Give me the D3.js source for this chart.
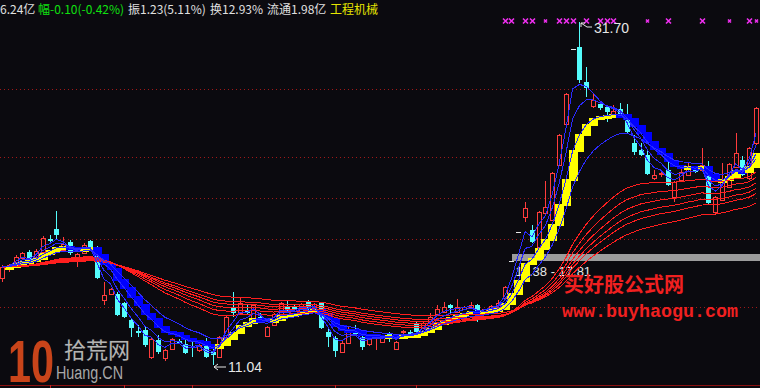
<!DOCTYPE html>
<html>
<head>
<meta charset="utf-8">
<script src="https://cdn.jsdelivr.net/npm/d3@7"></script>
<style>
  html, body { margin: 0; padding: 0; background: #0b0a0f; }
  svg { display: block; }
</style>
</head>
<body>
<svg id="chart" width="760" height="388"></svg>
<script>
// daily bars, oldest first
var opens  = [16.28,16.82,17.24,17.49,17.85,17.55,17.85,18.63,19.23,17.97,18.45,17.55,17.79,18.51,18.09,14.96,15.32,15.32,14.78,13.75,
              13.09,13.15,11.52,12.55,11.46,12.00,12.49,12.31,12.13,11.94,12.37,11.82,11.52,12.73,14.47,14.17,14.30,13.87,13.93,12.79,
              13.45,13.93,14.60,14.53,14.23,14.90,14.30,14.78,13.03,12.67,11.82,12.37,13.03,12.73,12.31,12.70,12.43,12.88,12.00,13.00,
              13.03,13.51,13.27,13.57,14.11,14.23,14.66,14.23,14.41,14.53,14.66,14.29,14.50,14.53,15.08,17.31,19.04,19.95,19.17,18.15,
              20.20,19.77,23.09,25.56,30.10,30.19,28.09,26.64,26.76,26.58,26.10,26.46,25.92,24.41,23.99,23.69,22.30,22.58,22.78,21.16,
              22.18,22.48,22.90,22.78,22.60,20.26,20.98,21.76,22.97,23.39,22.30,24.41];
var highs  = [17.06,17.12,17.67,17.85,17.97,18.00,18.81,18.87,20.32,18.75,18.57,17.79,18.39,18.57,18.21,16.04,15.68,15.44,14.84,13.81,
              13.45,13.33,12.67,12.85,11.99,12.67,12.61,12.55,12.55,12.40,12.67,12.07,12.79,14.05,15.44,15.08,14.66,14.72,14.17,13.39,
              14.17,14.84,14.96,14.72,14.78,14.96,14.78,14.84,13.33,12.79,12.49,13.33,13.45,12.97,12.67,12.85,12.67,13.03,12.50,13.15,
              13.15,13.70,13.63,14.17,14.66,14.84,14.72,15.02,14.60,14.84,14.72,14.41,14.66,14.96,15.80,17.31,19.04,20.86,19.47,20.30,
              22.12,22.66,24.95,27.42,30.10,31.70,28.99,27.42,26.88,26.64,26.70,26.82,26.76,24.89,24.41,23.99,22.78,22.78,23.27,22.12,
              22.90,23.27,23.00,24.11,23.33,21.22,23.21,23.20,25.00,23.60,24.20,26.60];
var lows   = [16.04,16.64,17.24,17.43,17.30,17.49,17.79,18.45,18.57,17.85,17.67,16.94,17.73,18.03,16.22,14.66,15.26,14.00,13.87,12.73,
              12.73,12.10,11.40,11.70,11.28,11.95,12.30,11.70,11.52,11.80,11.46,11.04,11.46,12.67,13.93,14.10,14.10,13.80,13.70,12.70,
              13.40,13.87,14.17,14.30,14.17,14.35,14.23,13.20,12.13,11.52,11.76,12.30,12.85,11.94,12.20,11.94,12.37,12.43,11.94,12.85,
              12.85,12.97,13.20,13.51,14.05,14.17,14.17,14.17,14.35,14.47,13.63,14.23,14.47,14.47,15.02,17.31,19.04,19.65,18.40,18.09,
              20.10,19.70,23.00,25.50,30.10,28.03,27.18,26.50,26.40,25.68,26.00,25.90,24.95,23.69,23.60,22.50,22.18,22.36,21.82,20.86,
              22.10,22.40,22.60,22.70,20.75,20.08,20.90,21.70,22.90,22.40,22.20,24.30];
var closes = [16.94,17.06,17.55,17.79,17.37,17.91,18.69,18.51,18.87,18.33,17.79,17.73,18.27,18.09,16.28,15.26,15.62,14.05,13.93,13.27,
              12.97,12.25,12.61,11.82,11.94,12.61,12.37,11.76,12.07,12.25,11.52,11.64,12.73,13.93,14.17,14.78,14.17,14.66,13.75,13.33,
              14.11,14.78,14.23,14.35,14.72,14.41,14.72,13.27,12.73,11.88,12.37,13.03,12.91,12.13,12.67,12.73,12.67,12.82,12.43,13.09,
              12.91,13.03,13.57,13.93,14.41,14.53,14.47,14.53,14.53,14.66,14.05,14.41,14.60,14.78,15.74,17.31,19.04,20.50,18.45,20.26,
              20.56,22.60,24.89,27.36,30.10,28.21,27.72,27.00,26.52,26.28,26.34,25.98,25.07,23.87,23.69,22.54,22.48,22.62,21.88,22.06,
              22.66,23.03,22.66,23.09,20.80,21.16,22.18,23.15,23.81,22.48,24.11,26.52];

var gridPrices   = [27.66, 23.57, 21.10, 18.63, 14.53];
var shortPeriods = [3, 5, 8, 13];           // blue group
var longPeriods  = [30, 35, 40, 45, 50, 60]; // red group
var stepPeriod   = 8;                        // staircase blocks
var crossBars    = [74, 75, 77, 78, 80, 82, 83, 84, 86, 88, 89, 90, 95, 98, 103, 107, 110, 111];
var crossSmall   = [80, 95, 107, 111];
var monthBars    = [7, 18, 28, 49, 61];
var highBar = 85, highValue = 31.70;
var lowBar = 31, lowValue = 11.04;
var bandStart = 75, bandPrice = 17.81, bandText = "11.38 - 17.81";
var headerTexts  = ["6.24亿", "幅-0.10(-0.42%)", "振1.23(5.11%)", "换12.93%", "流通1.98亿", "工程机械"];

var W = 760, H = 388;
var svg = d3.select("#chart");
svg.append("rect").attr("width", W).attr("height", H).attr("fill", "#0b0a0f");

var x = d3.scaleLinear().domain([0, closes.length - 1]).range([2, 756]);
var y = d3.scaleLinear().domain([lowValue, highValue]).range([365, 22]);

function ema(vals, n) {
  var k = 2 / (n + 1), prev = vals[0];
  return vals.map(function(v, i) { prev = i ? prev + k * (v - prev) : v; return prev; });
}

// dotted grid
svg.append("g").selectAll("line").data(gridPrices).join("line")
  .attr("x1", 0).attr("x2", W)
  .attr("y1", d => Math.round(y(d)) + 0.5).attr("y2", d => Math.round(y(d)) + 0.5)
  .attr("stroke", "#a01818").attr("stroke-dasharray", "1,3");

// bottom border + month ticks
svg.append("line").attr("x1", 0).attr("x2", W).attr("y1", 385.5).attr("y2", 385.5).attr("stroke", "#8a1010");
svg.append("g").selectAll("line").data(monthBars).join("line")
  .attr("x1", d => Math.round(x(d)) + 0.5).attr("x2", d => Math.round(x(d)) + 0.5)
  .attr("y1", 385).attr("y2", 388).attr("stroke", "#c02020");

// grey level band and its label
svg.append("rect")
  .attr("x", Math.round(x(bandStart)) + 1).attr("width", W - Math.round(x(bandStart)))
  .attr("y", Math.round(y(bandPrice)) + 1).attr("height", 7)
  .attr("fill", "#9c9c9c");
svg.append("text").attr("x", x(bandStart) + 4).attr("y", y(bandPrice) + 23)
  .attr("fill", "#e6e6e6").attr("font-family", "Liberation Sans, Arial, sans-serif")
  .attr("font-size", 13).text(bandText);

// candles
var cg = svg.append("g").attr("shape-rendering", "crispEdges");
closes.forEach(function(c, i) {
  var o = opens[i], h = highs[i], l = lows[i];
  var cx = Math.round(x(i));
  var top = Math.round(y(Math.max(o, c))), bot = Math.round(y(Math.min(o, c)));
  if (c > o) {
    var red = "#ff3c3c";
    cg.append("line").attr("x1", cx + 0.5).attr("x2", cx + 0.5).attr("y1", y(h)).attr("y2", top).attr("stroke", red);
    cg.append("line").attr("x1", cx + 0.5).attr("x2", cx + 0.5).attr("y1", bot).attr("y2", y(l)).attr("stroke", red);
    cg.append("rect").attr("x", cx - 1.5).attr("y", top + 0.5).attr("width", 4).attr("height", Math.max(1, bot - top))
      .attr("fill", "none").attr("stroke", red);
  } else if (c < o) {
    var cy = "#54fcfc";
    cg.append("line").attr("x1", cx + 0.5).attr("x2", cx + 0.5).attr("y1", y(h)).attr("y2", y(l)).attr("stroke", cy);
    cg.append("rect").attr("x", cx - 2).attr("y", top).attr("width", 5).attr("height", Math.max(1, bot - top)).attr("fill", cy);
  } else {
    if (h > l) cg.append("line").attr("x1", cx + 0.5).attr("x2", cx + 0.5).attr("y1", y(h)).attr("y2", y(l)).attr("stroke", "#e6e6e6");
    cg.append("line").attr("x1", cx - 2).attr("x2", cx + 3).attr("y1", top + 0.5).attr("y2", top + 0.5).attr("stroke", "#e6e6e6");
  }
});

// staircase blocks from the step average
var step = ema(closes, stepPeriod);
var bg = svg.append("g").attr("shape-rendering", "crispEdges");
step.forEach(function(v, i) {
  if (i === 0) return;
  var p = step[i - 1];
  var t = Math.round(y(Math.max(v, p))), b = Math.round(y(Math.min(v, p)));
  bg.append("rect").attr("x", Math.round(x(i)) - 4).attr("width", 9)
    .attr("y", t - 1).attr("height", Math.max(4, b - t + 2))
    .attr("fill", v >= p ? "#ffff00" : "#0000ff");
});

var line = d3.line().x((d, i) => x(i)).y(d => y(d));

// long averages in red
svg.append("g").selectAll("path").data(longPeriods.map(n => ema(closes, n))).join("path")
  .attr("d", line).attr("fill", "none").attr("stroke", "#ff1e1e").attr("stroke-width", 1)
  .attr("shape-rendering", "crispEdges");

// short averages in blue
svg.append("g").selectAll("path").data(shortPeriods.map(n => ema(closes, n))).join("path")
  .attr("d", line).attr("fill", "none").attr("stroke", "#2a2aff").attr("stroke-width", 1)
  .attr("shape-rendering", "crispEdges");

// magenta crosses along the top
var mg = svg.append("g").attr("stroke", "#f030f0").attr("stroke-width", 1.6);
crossBars.forEach(function(b) {
  var r = crossSmall.indexOf(b) >= 0 ? 1.5 : 2.5, cx = Math.round(x(b)) + 0.5, cy = 21;
  mg.append("path").attr("d", "M" + (cx - r) + "," + (cy - r) + "L" + (cx + r) + "," + (cy + r) +
    "M" + (cx - r) + "," + (cy + r) + "L" + (cx + r) + "," + (cy - r));
});

// high / low annotations
var hx = Math.round(x(highBar)) + 1, hy = y(highValue);
svg.append("path").attr("d", "M" + (hx + 1) + "," + (hy + 1) + "L" + (hx + 1) + "," + (hy + 5) +
    "M" + (hx + 1) + "," + (hy + 1) + "L" + (hx + 5) + "," + (hy + 1) +
    "M" + (hx + 1) + "," + (hy + 1) + "L" + (hx + 7) + "," + (hy + 5) + "L" + (hx + 12) + "," + (hy + 5))
  .attr("stroke", "#e6e6e6").attr("fill", "none");
svg.append("text").attr("x", hx + 14).attr("y", hy + 11)
  .attr("fill", "#e6e6e6").attr("font-family", "Liberation Sans, Arial, sans-serif").attr("font-size", 14)
  .text(highValue.toFixed(2));

var lx = Math.round(x(lowBar)) + 1, ly = y(lowValue) + 2;
svg.append("path").attr("d", "M" + lx + "," + ly + "L" + (lx + 12) + "," + ly +
    "M" + lx + "," + ly + "L" + (lx + 4) + "," + (ly - 3) + "M" + lx + "," + ly + "L" + (lx + 4) + "," + (ly + 3))
  .attr("stroke", "#e6e6e6").attr("fill", "none");
svg.append("text").attr("x", lx + 14).attr("y", ly + 5)
  .attr("fill", "#e6e6e6").attr("font-family", "Liberation Sans, Arial, sans-serif").attr("font-size", 14)
  .text(lowValue.toFixed(2));

// watermarks
svg.append("text").attr("x", 564).attr("y", 292).attr("fill", "#f02020")
  .attr("font-family", "Noto Sans CJK SC").attr("font-weight", "bold").attr("font-size", 20)
  .text("买好股公式网");
svg.append("text").attr("x", 562).attr("y", 317).attr("fill", "#f02020")
  .attr("font-family", "Liberation Mono, monospace").attr("font-weight", "bold").attr("font-size", 18)
  .attr("textLength", 176).attr("lengthAdjust", "spacingAndGlyphs")
  .text("www.buyhaogu.com");

svg.append("text").attr("x", 8).attr("y", 382).attr("fill", "#c8441a")
  .attr("font-family", "Liberation Sans, Arial, sans-serif").attr("font-weight", "bold").attr("font-size", 60)
  .attr("textLength", 46).attr("lengthAdjust", "spacingAndGlyphs").text("10");
svg.append("text").attr("x", 64).attr("y", 358).attr("fill", "#b4b4b4")
  .attr("stroke", "#202020").attr("stroke-width", 0.8).attr("paint-order", "stroke")
  .attr("font-family", "Noto Sans CJK SC").attr("font-size", 22).text("拾荒网");
svg.append("text").attr("x", 56).attr("y", 379).attr("fill", "#a8a8a8")
  .attr("font-family", "Liberation Sans, Arial, sans-serif").attr("font-size", 18)
  .attr("textLength", 67).attr("lengthAdjust", "spacingAndGlyphs").text("Huang.CN");

// header line
var headerX = [0, 38, 128, 210, 267, 330];
var headerColors = ["#e0e0e0", "#10e010", "#e0e0e0", "#e0e0e0", "#e0e0e0", "#e6e600"];
svg.append("g").selectAll("text").data(headerTexts).join("text")
  .attr("x", (d, i) => headerX[i]).attr("y", 14)
  .attr("fill", (d, i) => headerColors[i])
  .attr("font-family", "Noto Sans CJK SC").attr("font-size", 12)
  .text(d => d);
</script>
</body>
</html>
